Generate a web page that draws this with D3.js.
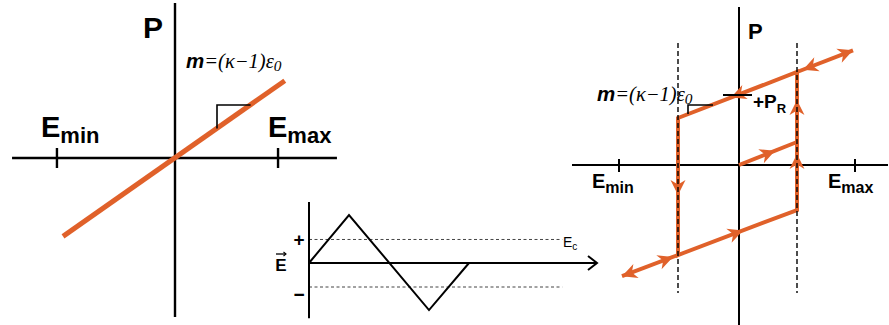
<!DOCTYPE html>
<html>
<head>
<meta charset="utf-8">
<script src="https://cdn.jsdelivr.net/npm/d3@7"></script>
<style>
  body { margin: 0; background: #fff; }
  svg { display: block; }
</style>
</head>
<body>
<svg id="fig" width="889" height="325"></svg>
<script>
// ---------- data ----------
// Linear dielectric response: P = (κ-1)ε0 · E
const linearE = [-1.00, 0.98];
const linearP = [-0.70, 0.69];
const linearTickE = [-1.054, 0.92];          // Emin, Emax
const linearTickLabels = ["min", "max"];
const linearSlopeE = [0.375, 0.375, 0.675];   // right-angle slope marker
const linearSlopeP = [0.2625, 0.473, 0.473];

// Ferroelectric hysteresis loop
const loopE = [-0.61, 0.58, 0.58, -0.61];
const loopP = [0.47, 0.93, -0.45, -0.90];
const tailE = [[0.58, 1.14], [-0.61, -1.17]];
const tailP = [[0.93, 1.147], [-0.90, -1.112]];
const virginE = [0, 0.58];
const virginP = [0, 0.23];
const coerciveE = [-0.61, 0.58];
const remanentP = 0.70;
const remanentE = [-0.16, 0.13];
const loopTickE = [-1.2, 1.16];
const loopSlopeE = [-0.51, -0.51, -0.26];
const loopSlopeP = [0.509, 0.60, 0.60];
// arrowheads: tip position and heading (dE, dP)
const arrowTipE = [1.14, 0.64, -0.08, -0.61, 0.36, 0.58, 0.58, 0.04, -0.66, -1.17];
const arrowTipP = [1.147, 0.953, 0.675, -0.30, 0.143, 0.11, 0.65, -0.654, -0.919, -1.112];
const arrowDirE = [1, -1, -1, 0, 1, 0, 0, 1, 1, -1];
const arrowDirP = [0.387, -0.387, -0.387, -1, 0.397, 1, 1, 0.378, 0.378, -0.378];

// Applied field waveform
const waveT = [0, 1, 3, 4];
const waveE = [0, 1.0, -0.98, 0];
const coerciveLevels = [0.49, -0.50];

// ---------- drawing ----------
const svg = d3.select("#fig");
const ORANGE = "#E0612A";
const SANS = "'Liberation Sans', Arial, sans-serif";
const SERIF = "'Liberation Serif', 'Times New Roman', serif";

svg.append("rect").attr("width", 889).attr("height", 325).attr("fill", "#fff");

function line(g, pts, opts) {
  return g.append("path")
    .attr("d", d3.line()(pts))
    .attr("fill", "none")
    .attr("stroke", opts.color || "#000")
    .attr("stroke-width", opts.width || 2)
    .attr("stroke-dasharray", opts.dash || null)
    .attr("stroke-linejoin", "miter");
}

function subLabel(g, x, y, main, sub, size, subSize, dy, weight) {
  const t = g.append("text").attr("x", x).attr("y", y)
    .attr("font-family", SANS).attr("font-weight", weight || "bold")
    .attr("font-size", size).attr("fill", "#000");
  t.append("tspan").text(main);
  t.append("tspan").attr("dy", dy).attr("font-size", subSize).text(sub);
  return t;
}

function slopeFormula(g, x, y, size) {
  const t = g.append("text").attr("x", x).attr("y", y)
    .attr("font-size", size).attr("fill", "#000");
  t.append("tspan").attr("font-family", SANS).attr("font-weight", "bold")
    .attr("font-style", "italic").text("m");
  t.append("tspan").attr("font-family", SERIF).attr("font-style", "italic")
    .text("=(κ−1)ε");
  t.append("tspan").attr("font-family", SERIF).attr("font-style", "italic")
    .attr("dy", 3).attr("font-size", size * 0.75).text("0");
}

// ===== Left panel: linear dielectric =====
{
  const x = d3.scaleLinear().domain([-1, 1]).range([63, 287]);
  const y = d3.scaleLinear().domain([-1, 1]).range([270, 46]);
  const g = svg.append("g");

  line(g, [[x(-1.455), y(0)], [x(1.446), y(0)]], { width: 2.4 });
  line(g, [[x(0), y(1.384)], [x(0), y(-1.42)]], { width: 2.4 });
  linearTickE.forEach(e => line(g, [[x(e), y(0) - 10], [x(e), y(0) + 10]], { width: 2.4 }));

  line(g, linearE.map((e, i) => [x(e), y(linearP[i])]), { color: ORANGE, width: 5 })
    .attr("stroke-linecap", "butt");
  line(g, linearSlopeE.map((e, i) => [x(e), y(linearSlopeP[i])]), { width: 1.6 });

  g.append("text").attr("x", 143).attr("y", 38)
    .attr("font-family", SANS).attr("font-weight", "bold").attr("font-size", 30).text("P");
  slopeFormula(g, 186, 68, 20.5);
  subLabel(g, 41, 137, "E", linearTickLabels[0], 29, 22, 6);
  subLabel(g, 268, 137, "E", linearTickLabels[1], 29, 22, 6);
}

// ===== Inset: triangular field waveform =====
{
  const x = d3.scaleLinear().domain([0, 1]).range([309, 349]);
  const y = d3.scaleLinear().domain([-1, 1]).range([311, 215]);
  const g = svg.append("g");

  coerciveLevels.forEach(v =>
    line(g, [[x(0), y(v)], [x(6.33), y(v)]], { width: 1, dash: "3,2.5", color: "#444" }));
  line(g, [[x(0), y(1.27)], [x(0), y(-1.15)]], { width: 2 });
  line(g, [[x(0), y(0)], [x(7.2), y(0)]], { width: 2 });
  line(g, [[x(7.2) - 9, y(0) - 7], [x(7.2), y(0)], [x(7.2) - 9, y(0) + 7]], { width: 2 });
  line(g, waveT.map((t, i) => [x(t), y(waveE[i])]), { width: 2 });

  g.append("text").attr("x", 299).attr("y", y(coerciveLevels[0]) + 7).attr("text-anchor", "middle")
    .attr("font-family", SANS).attr("font-weight", "bold").attr("font-size", 19).text("+");
  g.append("text").attr("x", 299).attr("y", y(coerciveLevels[1]) + 14).attr("text-anchor", "middle")
    .attr("font-family", SANS).attr("font-weight", "bold").attr("font-size", 19).text("−");
  g.append("text").attr("x", 281).attr("y", 271).attr("text-anchor", "middle")
    .attr("font-family", SANS).attr("font-weight", "bold").attr("font-size", 17).text("E");
  // vector arrow above E
  line(g, [[276, 254], [286, 254]], { width: 1.3 });
  line(g, [[283.5, 252], [286, 254], [283.5, 256]], { width: 1.1 });
  subLabel(g, 563, 247, "E", "c", 14, 10, 3, "normal");
}

// ===== Right panel: ferroelectric hysteresis =====
{
  const x = d3.scaleLinear().domain([0, 1]).range([739, 839]);
  const y = d3.scaleLinear().domain([0, 1]).range([165, 65]);
  const g = svg.append("g");

  line(g, [[x(-1.67), y(0)], [x(1.49), y(0)]], { width: 2 });
  line(g, [[x(0), y(1.58)], [x(0), y(-1.6)]], { width: 2 });
  loopTickE.forEach(e => line(g, [[x(e), y(0) - 6], [x(e), y(0) + 7]], { width: 2 }));

  const loopPts = loopE.map((e, i) => [x(e), y(loopP[i])]);
  g.append("path").attr("d", d3.line()(loopPts) + "Z")
    .attr("fill", "none").attr("stroke", ORANGE).attr("stroke-width", 4);
  tailE.forEach((es, k) =>
    line(g, es.map((e, i) => [x(e), y(tailP[k][i])]), { color: ORANGE, width: 4 }));
  line(g, virginE.map((e, i) => [x(e), y(virginP[i])]), { color: ORANGE, width: 4 });

  // arrowheads
  arrowTipE.forEach((e, i) => {
    const tx = x(e), ty = y(arrowTipP[i]);
    const ang = Math.atan2(y(arrowDirP[i]) - y(0), x(arrowDirE[i]) - x(0)) * 180 / Math.PI;
    g.append("path")
      .attr("d", "M0,0 L-15,-7.5 L-10.5,0 L-15,7.5 Z")
      .attr("fill", ORANGE)
      .attr("transform", `translate(${tx},${ty}) rotate(${ang})`);
  });

  coerciveE.forEach(e =>
    line(g, [[x(e), y(1.22)], [x(e), y(-1.28)]], { width: 1.4, dash: "5,3" }));

  line(g, remanentE.map(e => [x(e), y(remanentP)]), { width: 2 });
  line(g, loopSlopeE.map((e, i) => [x(e), y(loopSlopeP[i])]), { width: 1.6 });

  g.append("text").attr("x", 748).attr("y", 39)
    .attr("font-family", SANS).attr("font-weight", "bold").attr("font-size", 22).text("P");
  slopeFormula(g, 597, 101, 20.5);
  subLabel(g, 753, 108, "+P", "R", 19, 13, 5);
  subLabel(g, 592, 188, "E", "min", 20, 16, 5);
  subLabel(g, 828, 188, "E", "max", 20, 16, 5);
}
</script>
</body>
</html>
